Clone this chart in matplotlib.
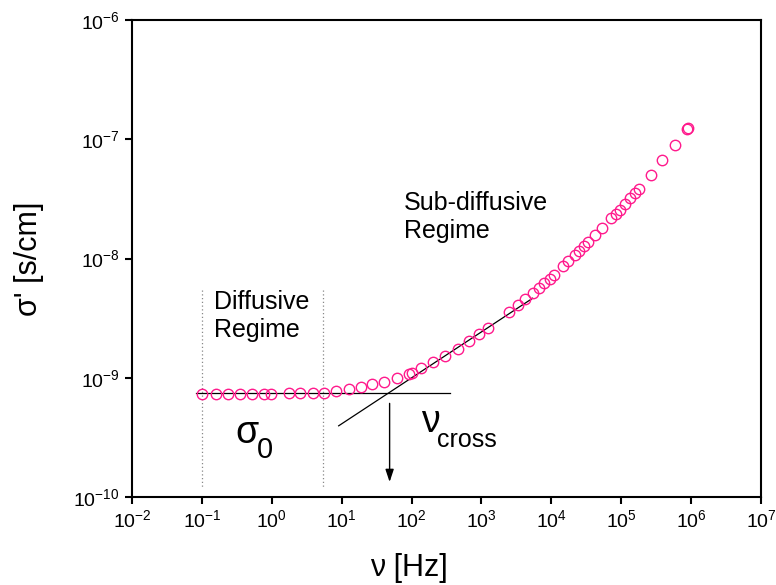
import numpy as np
import matplotlib
matplotlib.use('Agg')
import matplotlib.pyplot as plt

plt.rcParams['font.family'] = ['Liberation Sans', 'DejaVu Sans']
plt.rcParams['mathtext.fontset'] = 'custom'
plt.rcParams['mathtext.rm'] = 'Liberation Sans'
plt.rcParams['mathtext.it'] = 'Liberation Sans:italic'
plt.rcParams['mathtext.bf'] = 'Liberation Sans:bold'
plt.rcParams['mathtext.default'] = 'regular'

# log10 of frequency [Hz] and log10 of sigma' [S/cm]
log_freq = [-1.00, -0.80, -0.62, -0.45, -0.28, -0.11, -0.01, 0.24, 0.41, 0.59, 0.75,
            0.92, 1.10, 1.28, 1.44, 1.61, 1.79, 1.96, 2.00, 2.13, 2.31, 2.48, 2.66,
            2.82, 2.97, 3.10, 3.40, 3.52, 3.63, 3.74, 3.82, 3.90, 3.98, 4.04, 4.17,
            4.24, 4.34, 4.40, 4.47, 4.53, 4.63, 4.73, 4.86, 4.92, 4.98, 5.06, 5.13,
            5.19, 5.25, 5.42, 5.59, 5.77, 5.94, 5.95]
log_sigma = [-9.139, -9.139, -9.137, -9.134, -9.134, -9.134, -9.134, -9.131, -9.131,
             -9.129, -9.126, -9.114, -9.095, -9.076, -9.055, -9.034, -9.003, -8.969,
             -8.958, -8.921, -8.871, -8.820, -8.759, -8.694, -8.633, -8.587, -8.450,
             -8.389, -8.341, -8.286, -8.249, -8.207, -8.173, -8.137, -8.061, -8.017,
             -7.969, -7.941, -7.899, -7.862, -7.801, -7.745, -7.661, -7.627, -7.597,
             -7.540, -7.492, -7.450, -7.414, -7.297, -7.176, -7.050, -6.910, -6.905]

# guide lines (log10 coordinates)
plateau_x = [-1.086, 2.557]
plateau_y = [-9.131, -9.131]
powerlaw_x = [0.957, 3.733]
powerlaw_y = [-9.403, -8.333]
regime_bounds = [-1.004, 0.733]
regime_span = [-8.263, -9.916]
arrow_x = 1.686
arrow_y = [-9.215, -9.874]

freq = 10 ** np.array(log_freq)
sigma = 10 ** np.array(log_sigma)

fig = plt.figure(figsize=(7.76, 5.85), dpi=100)
ax = fig.add_axes([132 / 776, 1 - 497 / 585, 629 / 776, 477 / 585])

ax.plot(freq, sigma, 'o', mfc='none', mec='#ff1a8c', ms=7.5, mew=1.0, zorder=3)

ax.plot(10 ** np.array(plateau_x), 10 ** np.array(plateau_y), color='k', lw=0.9)
ax.plot(10 ** np.array(powerlaw_x), 10 ** np.array(powerlaw_y), color='k', lw=0.9)
for b in regime_bounds:
    ax.plot([10 ** b, 10 ** b], 10 ** np.array(regime_span), color='#888888',
            ls=(0, (1, 2)), lw=0.9)

ax.annotate('', xy=(10 ** arrow_x, 10 ** arrow_y[1]),
            xytext=(10 ** arrow_x, 10 ** arrow_y[0]),
            arrowprops=dict(arrowstyle='-|>,head_length=0.75,head_width=0.25',
                            color='k', lw=1.0, mutation_scale=10,
                            shrinkA=0, shrinkB=0))

ax.set_xscale('log')
ax.set_yscale('log')
ax.set_xlim(1e-2, 1e7)
ax.set_ylim(1e-10, 1e-6)
ax.set_xticks(10.0 ** np.arange(-2, 8))
ax.set_yticks(10.0 ** np.arange(-10, -5))
ax.minorticks_off()

ax.tick_params(which='major', direction='out', length=5, width=1.5,
               labelsize=14, top=False, right=False, pad=4)
for s in ax.spines.values():
    s.set_linewidth(1.5)

# annotations
ax.text(10 ** -0.83, 10 ** -8.660, 'Diffusive\nRegime', fontsize=18, va='baseline',
        ha='left', linespacing=1.2)
ax.text(10 ** 1.886, 10 ** -7.826, 'Sub-diffusive\nRegime', fontsize=18, va='baseline',
        ha='left', linespacing=1.2)
ax.text(10 ** -0.514, 10 ** -9.546, 'σ', fontsize=27, va='baseline', ha='left')
ax.text(10 ** -0.214, 10 ** -9.675, '0', fontsize=21, va='baseline', ha='left')
ax.text(10 ** 2.139, 10 ** -9.456, 'ν', fontsize=27, va='baseline', ha='left')
ax.text(10 ** 2.371, 10 ** -9.580, 'cross', fontsize=18, va='baseline', ha='left')

ax.set_xlabel('ν [Hz]', fontsize=22)
ax.set_ylabel("σ' [s/cm]", fontsize=22)
ax.xaxis.set_label_coords(0.441, -0.117)
ax.yaxis.set_label_coords(-0.14, 0.5)

fig.savefig('out.png', dpi=100)
